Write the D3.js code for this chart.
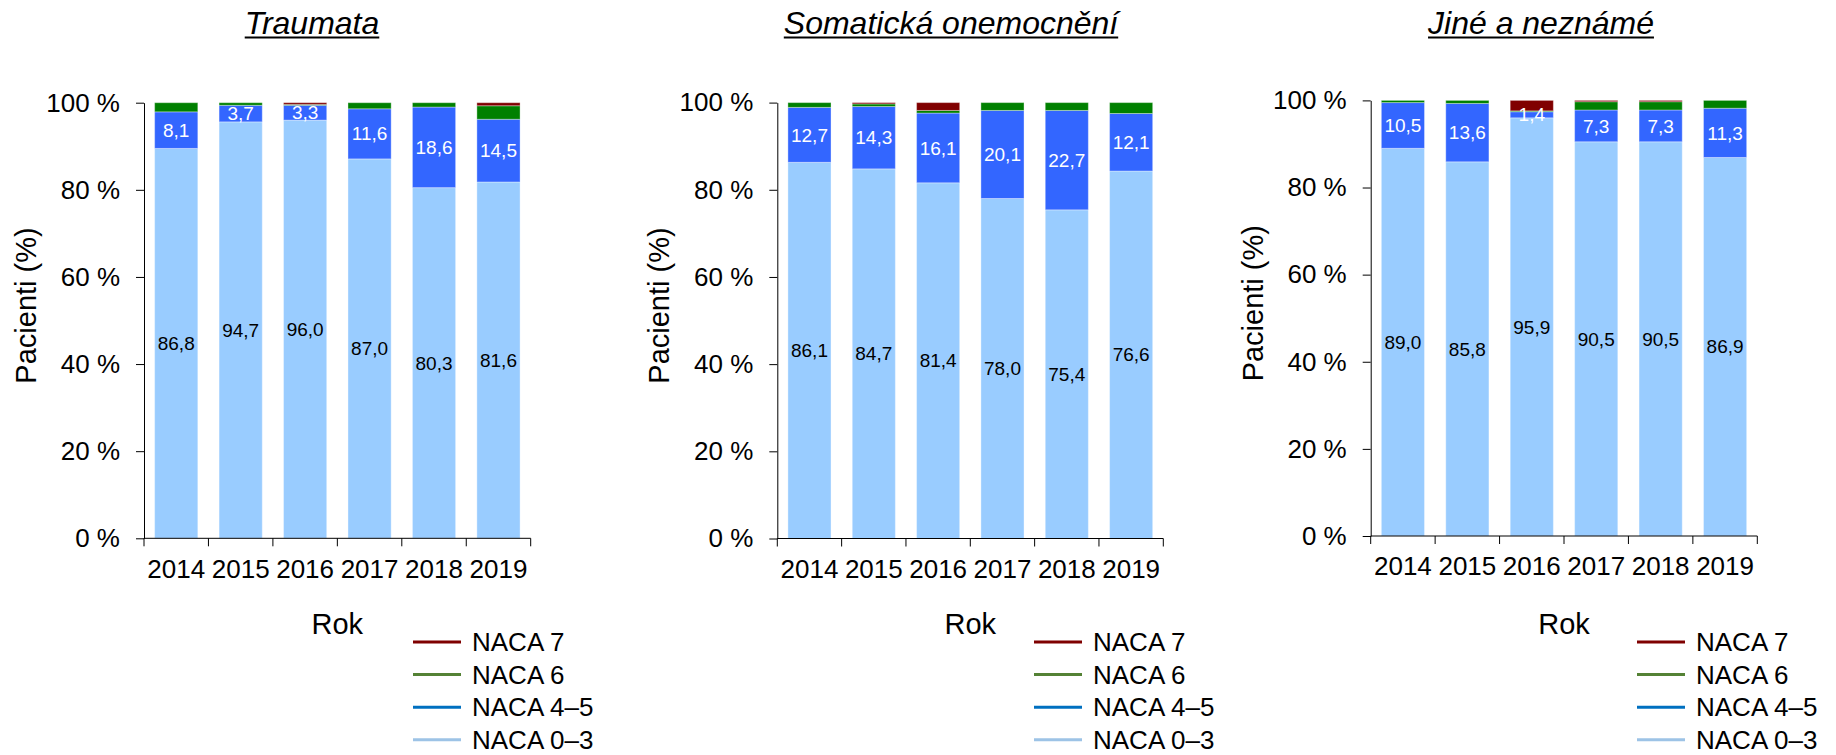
<!DOCTYPE html>
<html>
<head>
<meta charset="utf-8">
<script src="https://cdn.jsdelivr.net/npm/d3@7"></script>
<style>
  body { margin: 0; background: #fff; }
  svg { font-family: "Liberation Sans", Arial, sans-serif; }
</style>
</head>
<body>
<svg id="chart" width="1836" height="755"></svg>
<script>
var years = ["2014", "2015", "2016", "2017", "2018", "2019"];
var seriesNames = ["NACA 0–3", "NACA 4–5", "NACA 6", "NACA 7"];
var yTicks = [0, 20, 40, 60, 80, 100];

// Traumata - heights of the stacked segments (%)
var trauma03 = [89.5, 95.6, 96.0, 87.1, 80.5, 81.8];
var trauma45 = [8.4, 3.8, 3.4, 11.5, 18.5, 14.4];
var trauma6 = [2.1, 0.6, 0.2, 1.4, 1.0, 3.1];
var trauma7 = [0, 0, 0.4, 0, 0, 0.7];
// printed labels
var traumaLabel03 = ["86,8", "94,7", "96,0", "87,0", "80,3", "81,6"];
var traumaLabel45 = ["8,1", "3,7", "3,3", "11,6", "18,6", "14,5"];

// Somatická onemocnění
var soma03 = [86.3, 84.8, 81.6, 78.0, 75.4, 84.3];
var soma45 = [12.6, 14.3, 16.0, 20.2, 22.8, 13.2];
var soma6 = [1.1, 0.6, 0.6, 1.8, 1.8, 2.5];
var soma7 = [0, 0.3, 1.8, 0, 0, 0];
var somaLabel03 = ["86,1", "84,7", "81,4", "78,0", "75,4", "76,6"];
var somaLabel45 = ["12,7", "14,3", "16,1", "20,1", "22,7", "12,1"];

// Jiné a neznámé
var other03 = [89.0, 85.9, 96.0, 90.5, 90.5, 86.9];
var other45 = [10.5, 13.4, 1.4, 7.3, 7.3, 11.3];
var other6 = [0.5, 0.7, 0.2, 1.9, 1.9, 1.8];
var other7 = [0, 0, 2.4, 0.3, 0.3, 0];
var otherLabel03 = ["89,0", "85,8", "95,9", "90,5", "90,5", "86,9"];
var otherLabel45 = ["10,5", "13,6", "1,4", "7,3", "7,3", "11,3"];

var barColors = ["#99ccff", "#3366ff", "#008000", "#800000"];
var legendColors = ["#9dc3e6", "#0070c0", "#548235", "#7f0000"];
var labelColors = ["#000", "#fff"];

var panels = [
    { title: "Traumata", values: [trauma03, trauma45, trauma6, trauma7],
      labels: [traumaLabel03, traumaLabel45],
      left: 144, right: 530.7, top: 102.7, bottom: 538.3, titleX: 312, legendX: 413 },
    { title: "Somatická onemocnění", values: [soma03, soma45, soma6, soma7],
      labels: [somaLabel03, somaLabel45],
      left: 777.3, right: 1163.3, top: 102.6, bottom: 538.5, titleX: 951, legendX: 1034 },
    { title: "Jiné a neznámé", values: [other03, other45, other6, other7],
      labels: [otherLabel03, otherLabel45],
      left: 1370.7, right: 1757.3, top: 100.4, bottom: 536, titleX: 1541, legendX: 1637 }
];

var svg = d3.select("#chart");
var keys = ["s0", "s1", "s2", "s3"];

panels.forEach(function (p) {
    var g = svg.append("g");

    var x = d3.scaleBand().domain(years).range([p.left, p.right])
        .paddingInner(0.33).paddingOuter(0.165);
    var y = d3.scaleLinear().domain([0, 100]).range([p.bottom, p.top]);

    var rows = years.map(function (yr, i) {
        var r = { year: yr };
        keys.forEach(function (k, j) { r[k] = p.values[j][i]; });
        return r;
    });
    var layers = d3.stack().keys(keys)(rows);

    // bars
    layers.forEach(function (layer, li) {
        g.append("g").selectAll("rect")
            .data(layer.filter(function (d) { return d[1] - d[0] > 0; }))
            .join("rect")
            .attr("x", function (d) { return x(d.data.year); })
            .attr("y", function (d) { return y(d[1]); })
            .attr("width", x.bandwidth())
            .attr("height", function (d) { return y(d[0]) - y(d[1]); })
            .attr("fill", barColors[li])
            .attr("stroke", "rgba(255,255,255,0.35)")
            .attr("stroke-width", 1);
    });

    // value labels for NACA 0–3 and 4–5
    [0, 1].forEach(function (li) {
        g.append("g").selectAll("text")
            .data(layers[li])
            .join("text")
            .attr("x", function (d) { return x(d.data.year) + x.bandwidth() / 2; })
            .attr("y", function (d) { return (y(d[0]) + y(d[1])) / 2; })
            .attr("dy", "0.35em")
            .attr("text-anchor", "middle")
            .attr("font-size", 19)
            .attr("fill", labelColors[li])
            .text(function (d, i) { return p.labels[li][i]; });
    });

    // y axis
    var ya = g.append("g")
        .attr("transform", "translate(" + p.left + ",0)")
        .call(d3.axisLeft(y).tickValues(yTicks).tickSize(8).tickSizeOuter(0).tickPadding(16)
            .tickFormat(function (d) { return d + " %"; }));
    ya.selectAll("text").attr("font-size", 26).attr("fill", "#000")
        .attr("font-family", "Liberation Sans, Arial, sans-serif");
    ya.selectAll("line, path").attr("stroke", "#000");

    // x axis: line, ticks between categories, labels centred
    g.append("line")
        .attr("x1", p.left).attr("x2", p.right)
        .attr("y1", p.bottom).attr("y2", p.bottom)
        .attr("stroke", "#000");
    var gap = (x.step() - x.bandwidth()) / 2;
    var bounds = years.map(function (yr) { return x(yr) - gap; }).concat([p.right]);
    g.append("g").selectAll("line")
        .data(bounds)
        .join("line")
        .attr("x1", function (d) { return d; }).attr("x2", function (d) { return d; })
        .attr("y1", p.bottom).attr("y2", p.bottom + 8)
        .attr("stroke", "#000");
    var xa = g.append("g")
        .attr("transform", "translate(0," + p.bottom + ")")
        .call(d3.axisBottom(x).tickSize(0).tickPadding(21));
    xa.select(".domain").remove();
    xa.selectAll("text").attr("font-size", 26).attr("fill", "#000")
        .attr("font-family", "Liberation Sans, Arial, sans-serif");

    // axis titles
    g.append("text")
        .attr("transform", "translate(" + (p.left - 108) + "," + ((p.top + p.bottom) / 2 - 15) + ") rotate(-90)")
        .attr("text-anchor", "middle")
        .attr("font-size", 29)
        .text("Pacienti (%)");
    g.append("text")
        .attr("x", (p.left + p.right) / 2)
        .attr("y", 634)
        .attr("text-anchor", "middle")
        .attr("font-size", 29)
        .text("Rok");

    // panel title, underlined
    var t = g.append("text")
        .attr("x", p.titleX)
        .attr("y", 34)
        .attr("text-anchor", "middle")
        .attr("font-size", 32)
        .attr("font-style", "italic")
        .text(p.title);
    var w = t.node().getComputedTextLength();
    g.append("line")
        .attr("x1", p.titleX - w / 2).attr("x2", p.titleX + w / 2)
        .attr("y1", 37.5).attr("y2", 37.5)
        .attr("stroke", "#000").attr("stroke-width", 2);

    // legend (top entry is NACA 7)
    var order = [3, 2, 1, 0];
    var lg = g.append("g").selectAll("g")
        .data(order)
        .join("g")
        .attr("transform", function (d, i) { return "translate(" + p.legendX + "," + (642 + i * 32.6) + ")"; });
    lg.append("line")
        .attr("x1", 0).attr("x2", 48)
        .attr("stroke", function (d) { return legendColors[d]; })
        .attr("stroke-width", 3);
    lg.append("text")
        .attr("x", 59)
        .attr("dy", "0.35em")
        .attr("font-size", 26)
        .text(function (d) { return seriesNames[d]; });
});
</script>
</body>
</html>
